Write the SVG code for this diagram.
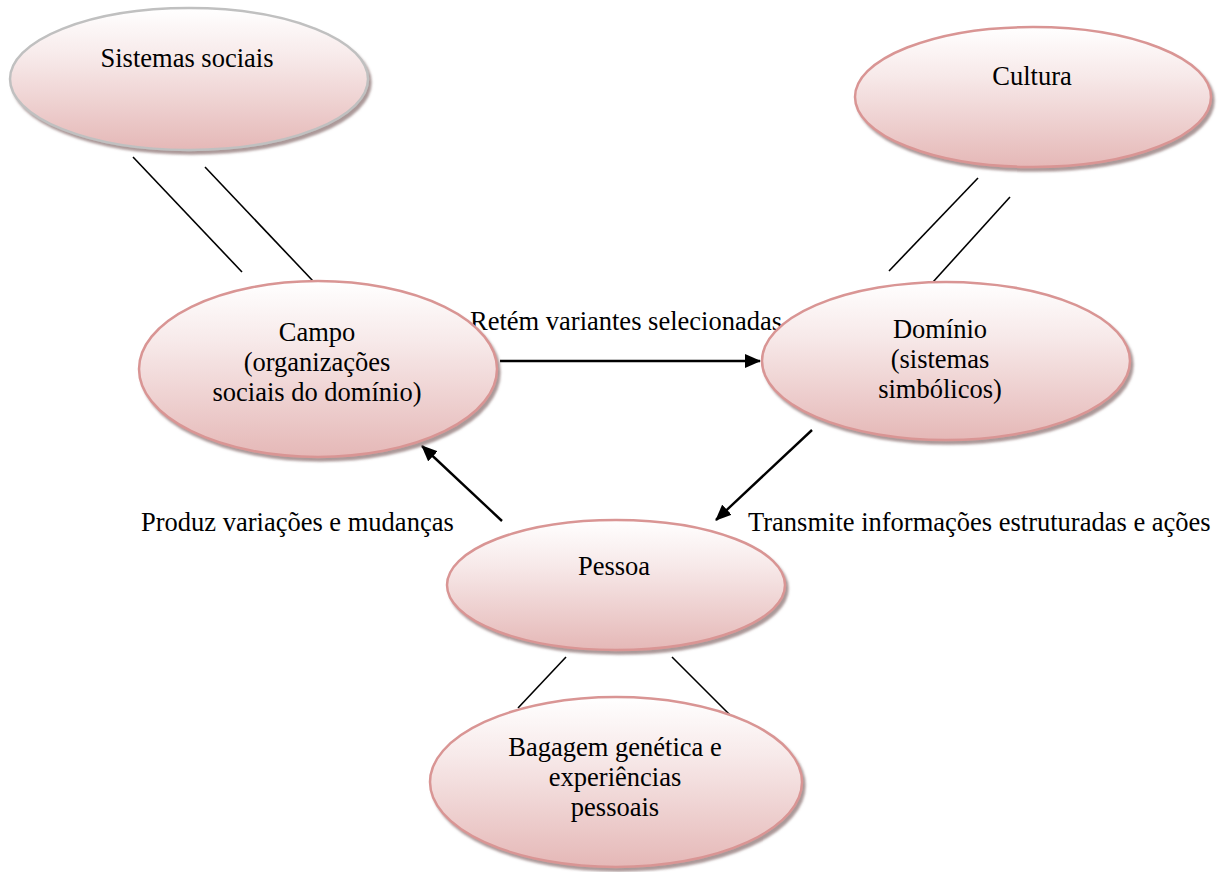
<svg xmlns="http://www.w3.org/2000/svg" width="1227" height="872" viewBox="0 0 1227 872">
<defs>
<linearGradient id="g" x1="0" y1="0" x2="0" y2="1">
<stop offset="0" stop-color="#ffffff"/>
<stop offset="0.35" stop-color="#f7e9e9"/>
<stop offset="1" stop-color="#e5b8b7"/>
</linearGradient>
<filter id="sh" x="-10%" y="-10%" width="125%" height="130%">
<feDropShadow dx="2.5" dy="3.5" stdDeviation="1.2" flood-color="#7f6060" flood-opacity="0.65"/>
</filter>
<marker id="ah" viewBox="0 0 16 14" refX="15" refY="7" markerWidth="16" markerHeight="14" markerUnits="userSpaceOnUse" orient="auto">
<path d="M0,0 L16,7 L0,14 Z" fill="#000"/>
</marker>
</defs>
<style>
.n{fill:url(#g);stroke:#d99594;stroke-width:2.5;filter:url(#sh)}
.grey{stroke:#c0c0c0}
text{font-family:"Liberation Serif","Times New Roman",serif;font-size:26.5px;fill:#000}
.c{text-anchor:middle}
.ln{stroke:#000;stroke-width:1.6;fill:none}
.ar{stroke:#000;stroke-width:2.4;fill:none;marker-end:url(#ah)}
</style>
<g id="connectors">
<line class="ln" x1="133" y1="157" x2="242" y2="272"/>
<line class="ln" x1="205" y1="167" x2="313" y2="281"/>
<line class="ln" x1="978" y1="178" x2="889" y2="271"/>
<line class="ln" x1="1010" y1="197" x2="933" y2="282"/>
<line class="ln" x1="566" y1="657" x2="518" y2="708"/>
<line class="ln" x1="672" y1="657" x2="732" y2="717"/>
<line class="ar" x1="500" y1="361" x2="760" y2="361"/>
<line class="ar" x1="812" y1="430" x2="716" y2="520"/>
<line class="ar" x1="502" y1="521" x2="422" y2="446"/>
<text x="470" y="330">Retém variantes selecionadas</text>
<text x="141" y="531">Produz variações e mudanças</text>
<text x="748" y="531">Transmite informações estruturadas e ações</text>
</g>
<g id="sistemas">
<ellipse class="n grey" cx="189" cy="79" rx="179" ry="71"/>
<text class="c" x="187" y="67">Sistemas sociais</text>
</g>
<g id="cultura">
<ellipse class="n" cx="1033" cy="97" rx="178" ry="70"/>
<text class="c" x="1032" y="85">Cultura</text>
</g>
<g id="campo">
<ellipse class="n" cx="318" cy="369" rx="179" ry="88"/>
<text class="c" x="317" y="341">Campo</text>
<text class="c" x="317" y="371">(organizações</text>
<text class="c" x="317" y="401">sociais do domínio)</text>
</g>
<g id="dominio">
<ellipse class="n" cx="946" cy="361" rx="184" ry="79"/>
<text class="c" x="940" y="338">Domínio</text>
<text class="c" x="940" y="368">(sistemas</text>
<text class="c" x="940" y="398">simbólicos)</text>
</g>
<g id="pessoa">
<ellipse class="n" cx="616" cy="585" rx="169" ry="65"/>
<text class="c" x="614" y="575">Pessoa</text>
</g>
<g id="bagagem">
<ellipse class="n" cx="616" cy="782" rx="186" ry="85"/>
<text class="c" x="615" y="756">Bagagem genética e</text>
<text class="c" x="615" y="786">experiências</text>
<text class="c" x="615" y="816">pessoais</text>
</g>
</svg>
